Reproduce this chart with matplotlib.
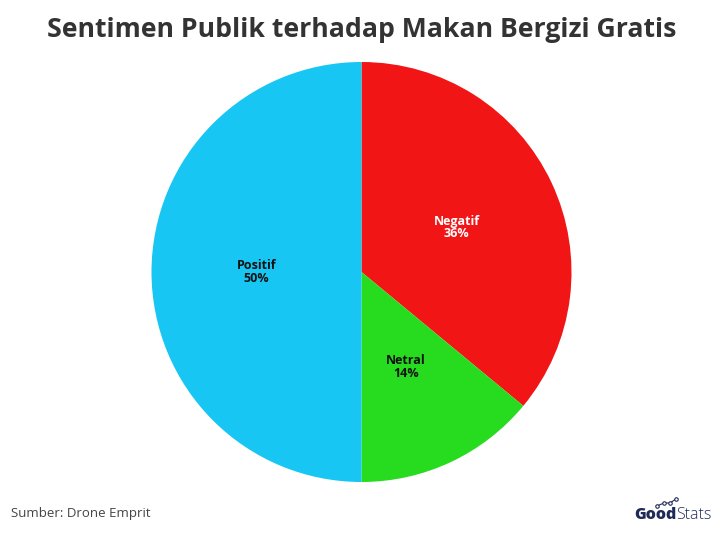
import matplotlib
matplotlib.use("Agg")
import matplotlib.pyplot as plt

categories = ["Negatif", "Netral", "Positif"]
shares = [36, 14, 50]
colors = ["#F21515", "#27DB1E", "#17C6F2"]
label_colors = ["white", "#111111", "#111111"]

fig = plt.figure(figsize=(7.23, 5.35), dpi=100)
fig.patch.set_facecolor("white")

ax = fig.add_axes([0.5 - 420 / 723 / 2, 1 - 482 / 535, 420 / 723, 420 / 535])
wedges, texts = ax.pie(
    shares,
    colors=colors,
    startangle=90,
    counterclock=False,
    labels=[f"{c}\n{v}%" for c, v in zip(categories, shares)],
    labeldistance=0.5,
    wedgeprops=dict(linewidth=0),
    textprops=dict(fontsize=9, fontweight="bold", ha="center", va="center",
                   linespacing=0.95, family="Open Sans"),
)
for t, c in zip(texts, label_colors):
    t.set_color(c)
ax.set_xlim(-1, 1)
ax.set_ylim(-1, 1)
ax.set_aspect("equal")

fig.text(0.5, 1 - 30 / 535, "Sentimen Publik terhadap Makan Bergizi Gratis",
         ha="center", va="center", fontsize=19.2, fontweight="bold",
         color="#333333", family="Open Sans")

fig.text(11 / 723, 1 - 513 / 535, "Sumber: Drone Emprit", ha="left", va="center",
         fontsize=9.5, color="#444444", family="Open Sans")

# GoodStats wordmark
navy = "#1F2A5A"
good = fig.text(634 / 723, 1 - 515 / 535, "Good", ha="left", va="center", fontsize=11.5,
                fontweight="heavy", color=navy, family="Open Sans")
renderer = fig.canvas.get_renderer()
bb = good.get_window_extent(renderer)
fig.text(bb.x1 / fig.bbox.width, 1 - 515 / 535, "Stats", ha="left", va="center",
         fontsize=11.5, fontweight="light", color=navy, family="Open Sans")
lx = [657 / 723, 664 / 723, 670 / 723, 676 / 723]
ly = [1 - 506 / 535, 1 - 503 / 535, 1 - 503 / 535, 1 - 499 / 535]
fig.add_artist(plt.Line2D(lx, ly, transform=fig.transFigure, color=navy,
                          linewidth=0.8, marker="o", markersize=2.5,
                          markerfacecolor="white", markeredgecolor=navy,
                          markeredgewidth=0.8))

fig.savefig("out.png", dpi=100, facecolor="white")
